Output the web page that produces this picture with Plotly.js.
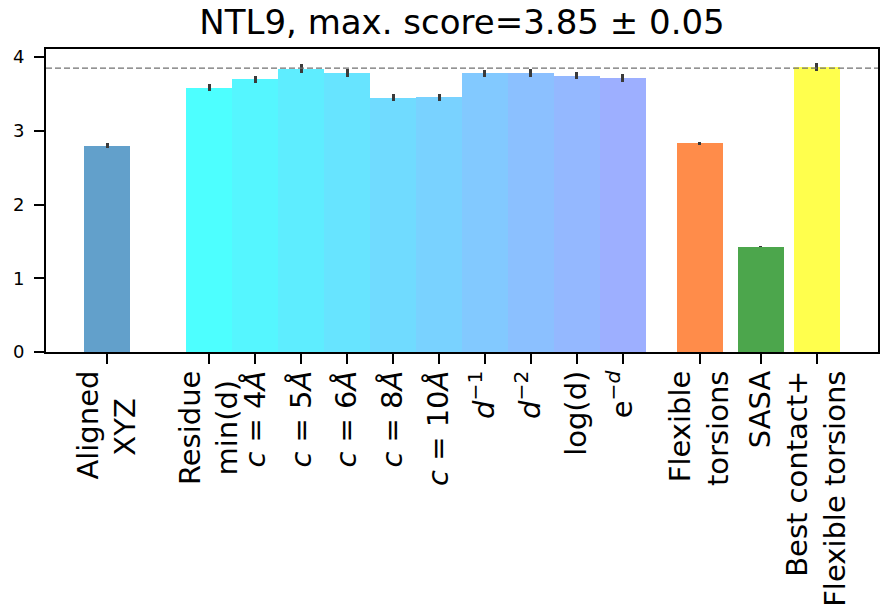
<!DOCTYPE html>
<html>
<head>
<meta charset="utf-8">
<script src="https://cdn.plot.ly/plotly-3.0.1.min.js"></script>
<style>html,body{margin:0;padding:0;background:#fff;}#chart{width:881px;height:612px;}</style>
</head>
<body>
<div id="chart"></div>
<script>
// Tick labels (one per bar)
const tickLabels = [
  'Aligned<br>XYZ\u00a0\u00a0\u00a0',
  'Residue<br>min(d)\u00a0',
  '<i>c</i> = 4<i>Å</i>',
  '<i>c</i> = 5<i>Å</i>',
  '<i>c</i> = 6<i>Å</i>',
  '<i>c</i> = 8<i>Å</i>',
  '<i>c</i> = 10<i>Å</i>',
  '<i>d</i><sup>−1</sup>',
  '<i>d</i><sup>−2</sup>',
  'log(d)',
  'e<sup>−<i>d</i></sup>',
  'Flexible<br>torsions',
  'SASA',
  'Best contact+<br>Flexible torsions'
];
// Bar positions along the x axis
const xPositions = [-2.22, 0, 1, 2, 3, 4, 5, 6, 7, 8, 9, 10.67, 12, 13.22];
// Scores and their errors
const scores = [2.80, 3.585, 3.70, 3.845, 3.79, 3.45, 3.455, 3.78, 3.78, 3.75, 3.72, 2.83, 1.43, 3.865];
const errors = [0.035, 0.05, 0.05, 0.06, 0.055, 0.05, 0.05, 0.045, 0.055, 0.05, 0.055, 0.02, 0.01, 0.055];
const maxScore = 3.85;

// Styles
const barColors = ['#62a0cb',
  '#4dffff', '#55f6ff', '#5eedff', '#67e4ff', '#70dbff',
  '#79d2ff', '#82c9ff', '#8bc0ff', '#94b8ff', '#9dafff',
  '#ff8c4a', '#4ca64c', '#ffff4d'];

const trace = {
  type: 'bar',
  x: xPositions,
  y: scores,
  width: 1,
  marker: {color: barColors, line: {width: 0}},
  error_y: {type: 'data', array: errors, visible: true, color: '#3a3a3a', thickness: 3, width: 0},
  hoverinfo: 'skip'
};

const layout = {
  width: 881, height: 612,
  margin: {l: 46, r: 3, t: 49, b: 260, pad: 0},
  paper_bgcolor: '#fff', plot_bgcolor: '#fff',
  font: {family: 'DejaVu Sans, sans-serif', color: '#000'},
  showlegend: false,
  bargap: 0,
  title: {
    text: 'NTL9, max. score=' + maxScore.toFixed(2) + ' ± 0.05',
    font: {size: 34, family: 'DejaVu Sans, sans-serif', color: '#000'},
    x: 0.5, xref: 'paper', xanchor: 'center',
    y: 1 - 34 / 612, yref: 'container', yanchor: 'bottom'
  },
  xaxis: {
    range: [-3.55, 14.55],
    tickmode: 'array', tickvals: xPositions, ticktext: tickLabels,
    tickangle: -90,
    tickfont: {size: 29, family: 'DejaVu Sans, sans-serif', color: '#000'},
    ticks: 'outside', ticklen: 10, tickwidth: 2, tickcolor: '#000',
    ticklabelstandoff: -5,
    showline: true, linecolor: '#000', linewidth: 2, mirror: true,
    showgrid: false, zeroline: false, fixedrange: true
  },
  yaxis: {
    range: [0, 4.11],
    tickmode: 'array', tickvals: [0, 1, 2, 3, 4], ticktext: ['0', '1', '2', '3', '4'],
    tickfont: {size: 18, family: 'DejaVu Sans, sans-serif', color: '#000'},
    ticks: 'outside', ticklen: 10, tickwidth: 2, tickcolor: '#000',
    ticklabelstandoff: 6,
    showline: true, linecolor: '#000', linewidth: 2, mirror: true,
    showgrid: false, zeroline: false, fixedrange: true
  },
  shapes: [{
    type: 'line', xref: 'paper', x0: 0, x1: 1, yref: 'y', y0: maxScore, y1: maxScore,
    line: {color: '#707070', width: 1.3, dash: '6px,3px'}
  }]
};

Plotly.newPlot('chart', [trace], layout, {displayModeBar: false, staticPlot: true});
</script>
</body>
</html>
